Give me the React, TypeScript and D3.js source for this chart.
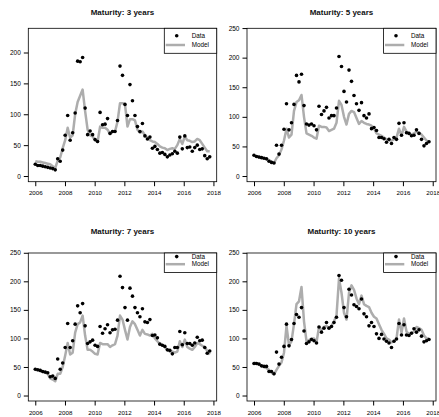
import React, { useEffect, useRef } from 'react';
import * as d3 from 'd3';

// observation dates: roughly every two months from 2006 to late 2017
const dates = d3.range(71).map(i => 2006 + (i * 11.75) / 70);

const maturities = [3, 5, 7, 10];
const xTicks = [2006, 2008, 2010, 2012, 2014, 2016, 2018];
const yTicksShort = [0, 50, 100, 150, 200];
const yTicksLong = [0, 50, 100, 150, 200, 250];
const yLimits = [230, 240, 240, 240];

const data3 = [
  19, 17, 17, 16, 15, 14, 13, 12, 10,
  28, 24, 42, 66, 98, 58, 70, 102,
  186, 185, 192, 110,
  67, 73, 67, 59, 56,
  103, 83, 84, 93, 69, 72, 72, 90,
  178, 163, 116, 98, 148, 122, 98, 80,
  72, 85, 65, 60, 63, 45,
  48, 43, 37, 38, 35, 31, 34, 36, 40, 37,
  63, 44, 65, 46, 47, 40, 46, 50, 43, 44, 33, 28,
  31,
];
const model3 = [
  24, 23, 23, 22, 21, 20, 19, 16, 13, 25, 30, 45, 58, 78, 62, 66, 100, 120,
  130, 140, 105, 75, 66, 64, 58, 55, 80, 78, 78, 75, 68, 72, 72, 88, 118, 118,
  116, 80, 92, 92, 90, 75, 70, 72, 66, 62, 58, 56, 55, 52, 48, 46, 45, 42,
  44, 45, 44, 50, 60, 52, 64, 58, 57, 55, 56, 60, 58, 52, 46, 40, 40,
];

const data5 = [
  35, 33, 32, 31, 30, 29, 25, 23, 22,
  52, 37, 52, 79, 122, 78, 90, 121, 170, 159, 172, 119,
  88, 86, 88, 85, 78,
  118, 104, 110, 116, 98, 102, 102, 115,
  202, 185, 143, 125, 179, 160, 136, 122, 111, 124,
  102, 98, 105, 80, 82, 77, 65, 65, 63, 57, 62, 55, 65, 62, 89, 69, 90,
  73, 72, 68, 69, 78, 72, 62, 51, 55, 58,
];
const model5 = [
  34, 33, 32, 31, 30, 29, 27, 24, 22, 30, 35, 45, 60, 80, 65, 70, 110, 125,
  128, 137, 100, 72, 70, 68, 65, 63, 85, 83, 83, 82, 76, 78, 80, 90, 127, 120,
  100, 87, 105, 110, 108, 98, 88, 93, 90, 88, 87, 85, 80, 72, 70, 68, 65, 62,
  60, 60, 62, 65, 80, 68, 83, 75, 72, 70, 72, 75, 73, 70, 65, 60, 57,
];

const data7 = [
  46, 45, 44, 42, 41, 40, 33, 34, 30,
  64, 46, 57, 84, 126, 84, 96, 125, 157, 145, 161, 122,
  91, 94, 97, 88, 86,
  121, 109, 117, 124, 110, 115, 116, 132,
  209, 189, 154, 132, 188, 174, 154, 145, 138, 152,
  129, 128, 133, 105, 106, 101, 90, 88, 86, 80, 79, 73, 84, 84, 112, 89, 110,
  91, 91, 88, 92, 102, 96, 97, 84, 74, 78,
];
const model7 = [
  45, 44, 43, 41, 40, 38, 30, 28, 25, 38, 38, 50, 70, 92, 72, 75, 110, 125,
  128, 140, 105, 80, 80, 77, 73, 72, 92, 90, 90, 90, 85, 88, 90, 105, 140, 133,
  115, 98, 120, 130, 125, 115, 105, 115, 108, 107, 105, 108, 100, 95, 90, 88,
  85, 80, 77, 77, 75, 77, 95, 85, 98, 85, 82, 80, 85, 92, 90, 87, 85, 78, 72,
];

const data10 = [
  56, 56, 55, 52, 51, 51, 42, 42, 38,
  76, 55, 67, 86, 125, 87, 98, 126, 142, 137, 154, 113,
  91, 94, 98, 96, 92,
  120, 111, 118, 128, 118, 121, 128, 137,
  210, 202, 154, 138, 186, 176, 159, 156, 152, 169,
  143, 138, 122, 128, 121, 108, 100, 107, 99, 95, 92, 84, 95, 99, 126, 106, 124,
  106, 105, 109, 117, 111, 115, 104, 94, 96, 98,
];
const model10 = [
  58, 56, 54, 52, 50, 48, 45, 40, 37, 45, 52, 58, 75, 122, 88, 95, 125, 160,
  165, 190, 130, 95, 97, 100, 100, 93, 120, 115, 120, 122, 118, 122, 130, 140,
  205, 180, 145, 133, 180, 193, 185, 170, 160, 175, 160, 157, 155, 145, 138,
  135, 125, 115, 108, 100, 98, 93, 95, 100, 133, 110, 135, 112, 108, 110, 112,
  120, 118, 115, 105, 100, 100,
];

const observed = [data3, data5, data7, data10];
const fitted = [model3, model5, model7, model10];

// panel geometry (pixels)
const cols = [
  { left: 28.3, right: 216.7 },
  { left: 247, right: 436 },
];
const rows = [
  { top: 28.3, bottom: 181.7, titleY: 15, legH: 25, dotDy: 7.4, lineDy: 16.7 },
  { top: 253, bottom: 401, titleY: 233.5, legH: 19.4, dotDy: 3.6, lineDy: 11.2 },
];
const FONT = 'Liberation Sans, Arial, Helvetica, sans-serif';

// R-style 4% axis expansion
const expand = (lo: number, hi: number) => {
  const pad = (hi - lo) * 0.04;
  return [lo - pad, hi + pad];
};

function Panel({ index }: { index: number }) {
  const col = cols[index % 2];
  const row = rows[Math.floor(index / 2)];
  const axisX = useRef<SVGGElement>(null);
  const axisY = useRef<SVGGElement>(null);

  const x = d3
    .scaleLinear()
    .domain(expand(dates[0], dates[dates.length - 1]))
    .range([col.left, col.right]);
  const y = d3
    .scaleLinear()
    .domain(expand(0, yLimits[index]))
    .range([row.bottom, row.top]);

  const points = dates.map((d, i) => ({ d, v: observed[index][i], m: fitted[index][i] }));
  const line = d3
    .line<{ d: number; m: number }>()
    .x(p => x(p.d))
    .y(p => y(p.m));

  useEffect(() => {
    d3.select(axisX.current)
      .call(
        d3
          .axisBottom(x)
          .tickValues(xTicks)
          .tickSize(4.5)
          .tickPadding(4.8)
          .tickFormat(d3.format('d'))
      )
      .call(g => g.select('.domain').remove())
      .attr('font-family', FONT)
      .attr('font-size', 6.2);

    d3.select(axisY.current)
      .call(
        d3
          .axisLeft(y)
          .tickValues(index === 0 ? yTicksShort : yTicksLong)
          .tickSize(4.5)
          .tickPadding(3)
      )
      .call(g => g.select('.domain').remove())
      .attr('font-family', FONT)
      .attr('font-size', 6.5);
  });

  const legW = 52.4;
  const legX = col.right - legW;

  return (
    <g>
      <text
        x={(col.left + col.right) / 2}
        y={row.titleY}
        textAnchor="middle"
        fontFamily={FONT}
        fontWeight="bold"
        fontSize={8}
        fill="#111"
      >
        Maturity: {maturities[index]} years
      </text>
      <path d={line(points) || ''} fill="none" stroke="#adadad" strokeWidth={2.5} strokeLinejoin="round" />
      {points.map((p, i) => (
        <circle key={i} cx={x(p.d)} cy={y(p.v)} r={1.8} fill="#000" />
      ))}
      <rect
        x={col.left}
        y={row.top}
        width={col.right - col.left}
        height={row.bottom - row.top}
        fill="none"
        stroke="#000"
        strokeWidth={0.8}
      />
      <g ref={axisX} transform={`translate(0, ${row.bottom})`} />
      <g ref={axisY} transform={`translate(${col.left}, 0)`} />
      <g className="legend">
        <rect x={legX} y={row.top} width={legW} height={row.legH} fill="#fff" stroke="#000" strokeWidth={0.8} />
        <circle cx={legX + 12.4} cy={row.top + row.dotDy} r={1.8} fill="#000" />
        <line
          x1={legX + 1.4}
          x2={legX + 20.7}
          y1={row.top + row.lineDy}
          y2={row.top + row.lineDy}
          stroke="#adadad"
          strokeWidth={2.5}
        />
        <text x={legX + 27.4} y={row.top + row.dotDy} dy="0.35em" fontFamily={FONT} fontSize={6.3}>
          Data
        </text>
        <text x={legX + 27.4} y={row.top + row.lineDy} dy="0.35em" fontFamily={FONT} fontSize={6.3}>
          Model
        </text>
      </g>
    </g>
  );
}

export default function App() {
  return (
    <svg
      width={439}
      height={417}
      viewBox="0 0 439 417"
      style={{ position: 'absolute', left: 0, top: 0, background: '#fff' }}
    >
      {maturities.map((m, i) => (
        <Panel key={m} index={i} />
      ))}
    </svg>
  );
}
